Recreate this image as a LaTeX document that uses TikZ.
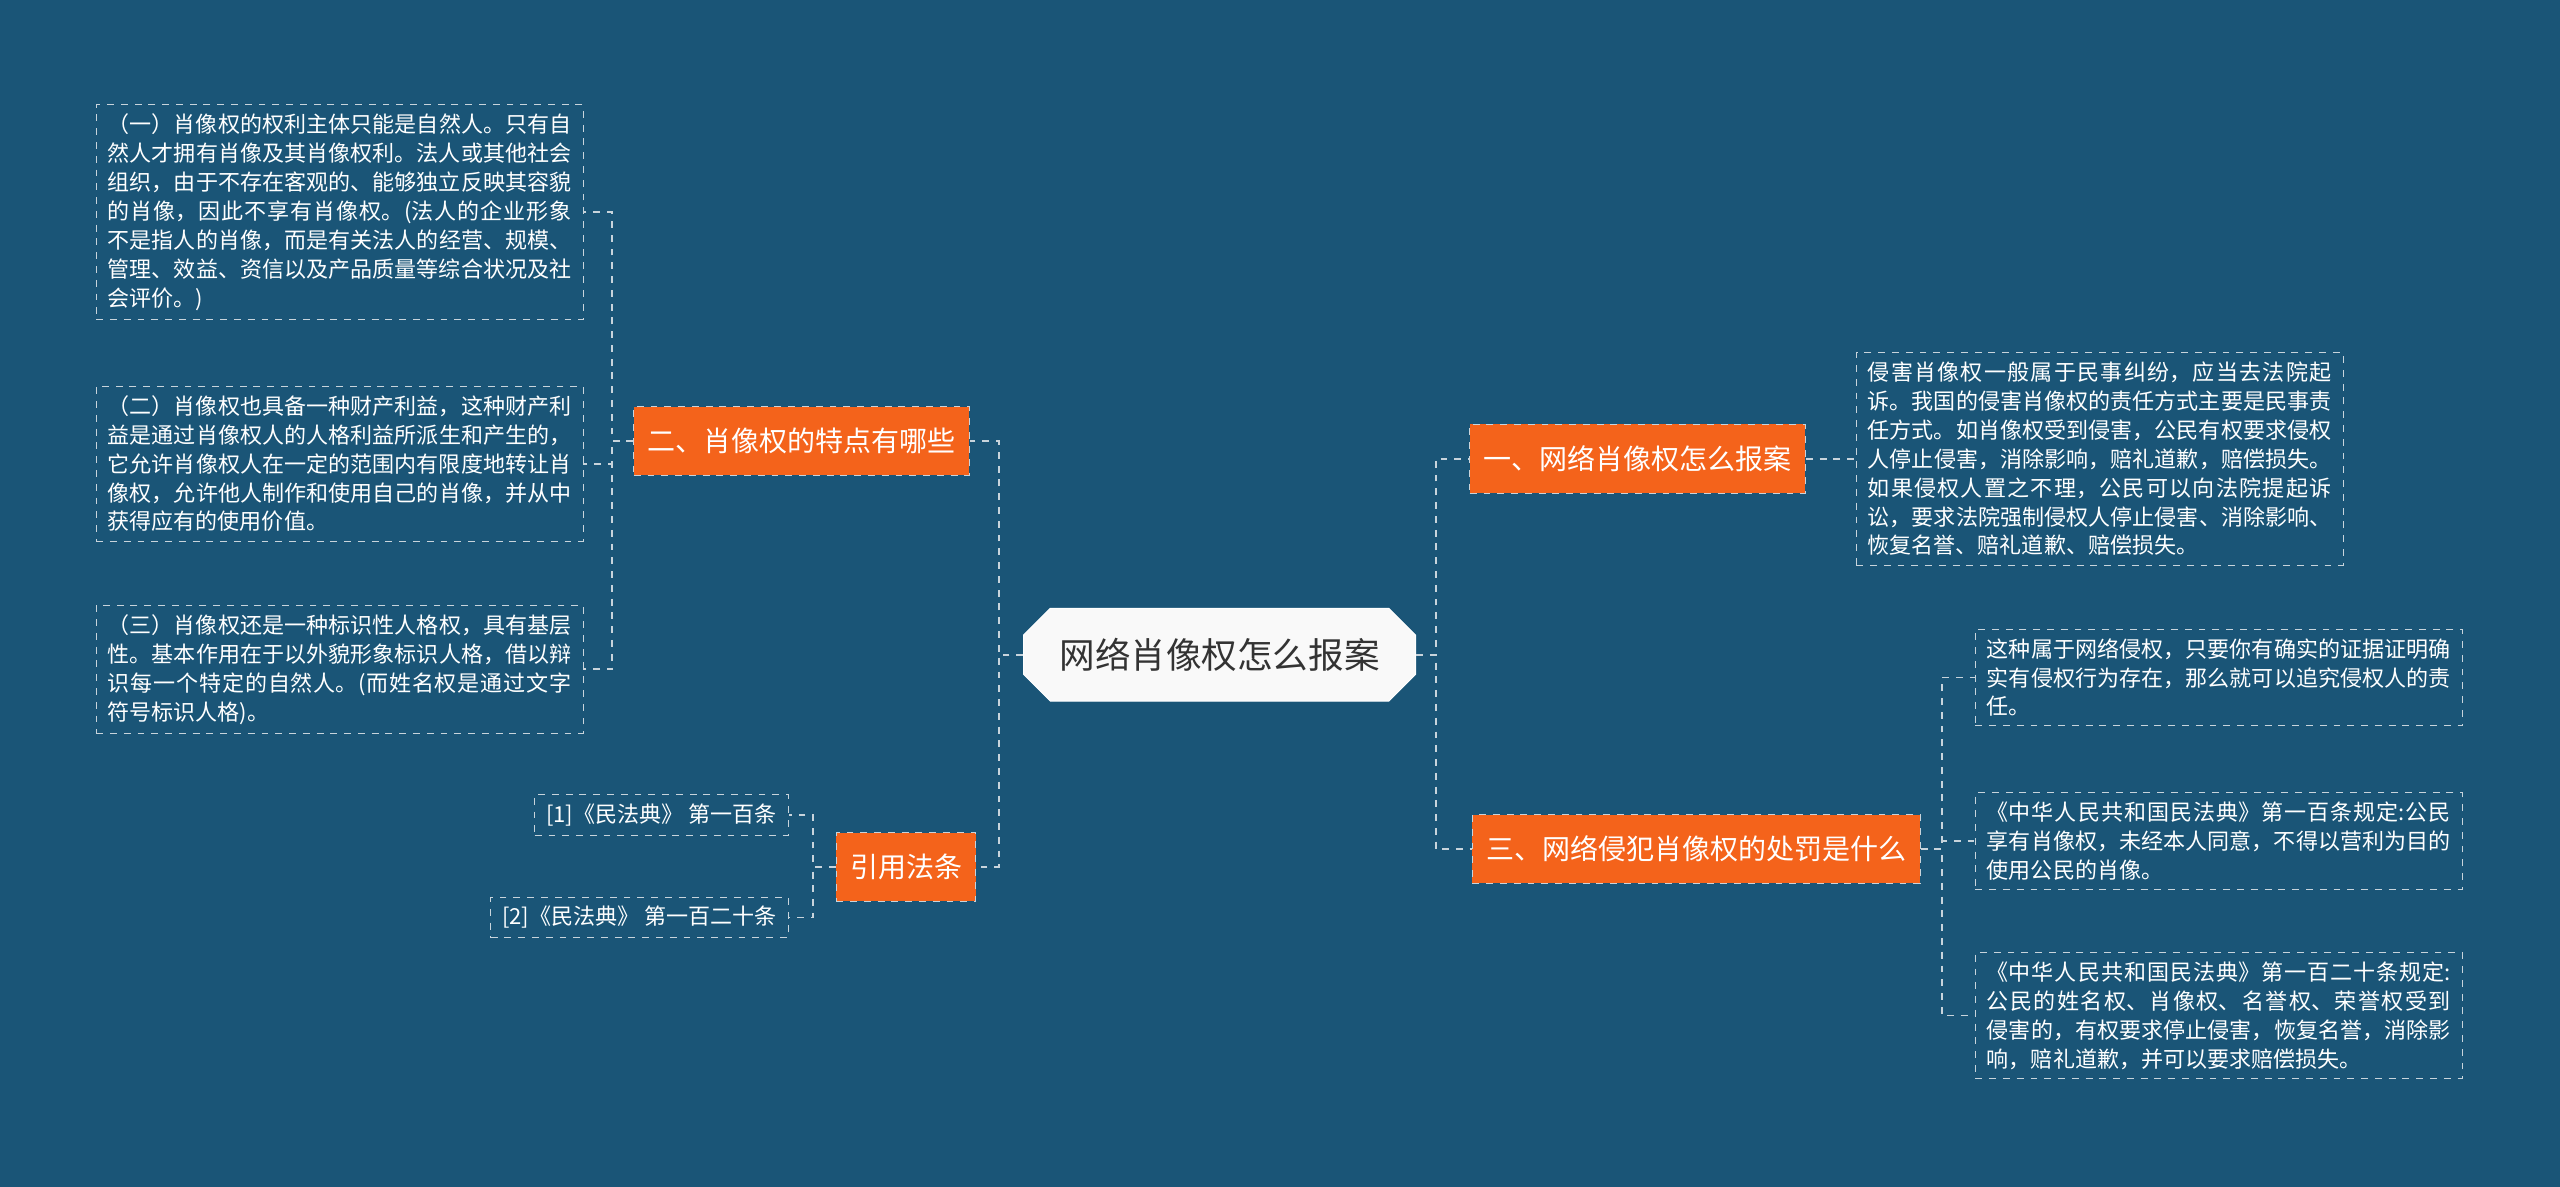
\documentclass[tikz,border=0pt]{standalone}
\usepackage{fontspec}
\setmainfont{Noto Sans CJK SC}
\usetikzlibrary{shapes.misc,positioning}
\XeTeXlinebreaklocale "zh"
\XeTeXlinebreakskip=0pt plus 1pt
\definecolor{bgblue}{HTML}{1A5577}
\definecolor{brorange}{HTML}{F4631B}
\definecolor{leafline}{HTML}{C8D4DC}
\tikzset{
    leafbox/.style={draw=leafline, dashed, text=white, font=\fontsize{9.6}{12.6}\selectfont,
        align=justify, inner xsep=5pt, inner ysep=4pt},
    branchbox/.style={fill=brorange, draw=leafline, dashed, text=white,
        font=\fontsize{12.2}{14}\selectfont, inner xsep=6pt, minimum height=1.05cm},
    link/.style={draw=leafline, dashed, thick}
}
\begin{document}
\begin{tikzpicture}[x=0.025cm, y=-0.025cm]
    \fill[bgblue] (0,0) rectangle (1568,727);
    \useasboundingbox (0,0) rectangle (1568,727);

    % Center
    \node[chamfered rectangle, chamfered rectangle xsep=8pt, fill=white!95!gray, draw=white,
        font=\fontsize{15.5}{18}\selectfont, text=black!80, minimum height=1.42cm,
        minimum width=6cm] (center) at (747,401) {网络肖像权怎么报案};

    % Branches
    \node[branchbox] (feat) at (491,270) {二、肖像权的特点有哪些};
    \node[branchbox] (cite) at (555,531) {引用法条};
    \node[branchbox] (report) at (1003,281) {一、网络肖像权怎么报案};
    \node[branchbox] (punish) at (1039,520) {三、网络侵犯肖像权的处罚是什么};

    % Left leaves
    \node[leafbox, text width=7.1cm] (featA) at (208,130) {（一）肖像权的权利主体只能是自然人。只有自然人才拥有肖像及其肖像权利。法人或其他社会组织，由于不存在客观的、能够独立反映其容貌的肖像，因此不享有肖像权。(法人的企业形象不是指人的肖像，而是有关法人的经营、规模、管理、效益、资信以及产品质量等综合状况及社会评价。)};
    \node[leafbox, text width=7.1cm] (featB) at (208,284) {（二）肖像权也具备一种财产利益，这种财产利益是通过肖像权人的人格利益所派生和产生的，它允许肖像权人在一定的范围内有限度地转让肖像权，允许他人制作和使用自己的肖像，并从中获得应有的使用价值。};
    \node[leafbox, text width=7.1cm] (featC) at (208,410) {（三）肖像权还是一种标识性人格权，具有基层性。基本作用在于以外貌形象标识人格，借以辩识每一个特定的自然人。(而姓名权是通过文字符号标识人格)。};
    \node[leafbox, anchor=east] (citeA) at (483,499) {[1]《民法典》 第一百条};
    \node[leafbox, anchor=east] (citeB) at (483,562) {[2]《民法典》 第一百二十条};

    % Right leaves
    \node[leafbox, text width=7.1cm] (reportA) at (1286,281) {侵害肖像权一般属于民事纠纷，应当去法院起诉。我国的侵害肖像权的责任方式主要是民事责任方式。如肖像权受到侵害，公民有权要求侵权人停止侵害，消除影响，赔礼道歉，赔偿损失。如果侵权人置之不理，公民可以向法院提起诉讼，要求法院强制侵权人停止侵害、消除影响、恢复名誉、赔礼道歉、赔偿损失。};
    \node[leafbox, text width=7.1cm] (punishA) at (1359,415) {这种属于网络侵权，只要你有确实的证据证明确实有侵权行为存在，那么就可以追究侵权人的责任。};
    \node[leafbox, text width=7.1cm] (punishB) at (1359,515) {《中华人民共和国民法典》第一百条规定:公民享有肖像权，未经本人同意，不得以营利为目的使用公民的肖像。};
    \node[leafbox, text width=7.1cm] (punishC) at (1359,622) {《中华人民共和国民法典》第一百二十条规定:公民的姓名权、肖像权、名誉权、荣誉权受到侵害的，有权要求停止侵害，恢复名誉，消除影响，赔礼道歉，并可以要求赔偿损失。};

    % Connectors
    \draw[link] (center.west) -- ++(-15,0) |- (feat.east);
    \draw[link] (center.west) -- ++(-15,0) |- (cite.east);
    \draw[link] (center.east) -- ++(12,0) |- (report.west);
    \draw[link] (center.east) -- ++(12,0) |- (punish.west);
    \foreach \leaf in {featA,featB,featC}
        \draw[link] (feat.west) -- ++(-13,0) |- (\leaf.east);
    \foreach \leaf in {citeA,citeB}
        \draw[link] (cite.west) -- ++(-14,0) |- (\leaf.east);
    \draw[link] (report.east) -- (reportA.west);
    \foreach \leaf in {punishA,punishB,punishC}
        \draw[link] (punish.east) -- ++(13,0) |- (\leaf.west);
\end{tikzpicture}
\end{document}
